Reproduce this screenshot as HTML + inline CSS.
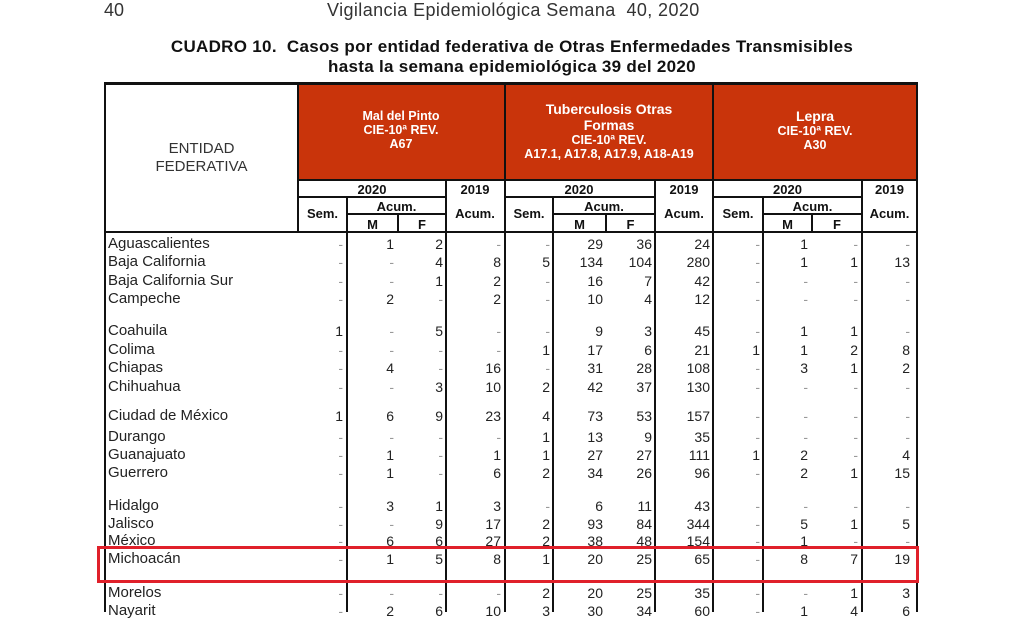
<!DOCTYPE html>
<html><head><meta charset="utf-8"><style>
*{margin:0;padding:0;box-sizing:border-box}
body{width:1024px;height:612px;overflow:hidden;background:#fff;font-family:"Liberation Sans",sans-serif;color:#222;position:relative}
.a{position:absolute}
.hl{position:absolute;background:#111}
.red{position:absolute;background:#c9340b;color:#fff;font-weight:bold;text-align:center;font-size:12.5px;line-height:14px}
.r{position:absolute;left:0;width:1024px;height:18px;font-size:14px;line-height:18px}
.r span{position:absolute;top:0}
.n{position:absolute;left:108px;font-size:15px;color:#222}
.c1{right:681px}.c2{right:630px}.c3{right:581px}.c4{right:523px}.c5{right:474px}.c6{right:421px}.c7{right:372px}.c8{right:314px}.c9{right:264px}.c10{right:216px}.c11{right:166px}.c12{right:114px}
.g{color:#999}
.hd{position:absolute;font-weight:bold;font-size:13px;text-align:center;color:#111}
</style></head><body>
<div class="a" style="left:104px;top:0;font-size:18px;color:#333">40</div>
<div class="a" style="left:327px;top:0;font-size:18px;color:#333;letter-spacing:0.4px">Vigilancia Epidemiológica Semana&nbsp; 40, 2020</div>
<div class="a" style="left:0;width:1024px;top:37px;text-align:center;font-weight:bold;font-size:17px;line-height:20px;color:#111;letter-spacing:0.3px">CUADRO 10.&nbsp; Casos por entidad federativa de Otras Enfermedades Transmisibles<br>hasta la semana epidemiológica 39 del 2020</div>

<!-- red headers -->
<div class="red" style="left:298px;top:84px;width:206px;height:96px;padding-top:25px">Mal del Pinto<br>CIE-10ª REV.<br>A67</div>
<div class="red" style="left:505px;top:84px;width:208px;height:96px;padding-top:17px"><span style="font-size:14px;line-height:16px">Tuberculosis Otras<br>Formas</span><br>CIE-10ª REV.<br>A17.1, A17.8, A17.9, A18-A19</div>
<div class="red" style="left:713px;top:84px;width:204px;height:96px;padding-top:25px"><span style="font-size:14px">Lepra</span><br>CIE-10ª REV.<br>A30</div>
<div class="a" style="left:105px;top:140px;width:193px;text-align:center;font-size:15px;line-height:18px;color:#333">ENTIDAD<br>FEDERATIVA</div>

<!-- table lines -->
<div class="hl" style="left:104px;top:82px;width:814px;height:3px"></div>
<div class="hl" style="left:298px;top:179px;width:620px;height:2px"></div>
<div class="hl" style="left:298px;top:196px;width:148px;height:2px"></div>
<div class="hl" style="left:505px;top:196px;width:150px;height:2px"></div>
<div class="hl" style="left:713px;top:196px;width:149px;height:2px"></div>
<div class="hl" style="left:347px;top:213px;width:99px;height:2px"></div>
<div class="hl" style="left:553px;top:213px;width:102px;height:2px"></div>
<div class="hl" style="left:763px;top:213px;width:99px;height:2px"></div>
<div class="hl" style="left:104px;top:231px;width:814px;height:2px"></div>
<div class="hl" style="left:104px;top:82px;width:2px;height:530px"></div>
<div class="hl" style="left:297px;top:82px;width:2px;height:150px"></div>
<div class="hl" style="left:346px;top:197px;width:2px;height:415px"></div>
<div class="hl" style="left:397px;top:214px;width:2px;height:18px"></div>
<div class="hl" style="left:445px;top:180px;width:2px;height:432px"></div>
<div class="hl" style="left:504px;top:82px;width:2px;height:530px"></div>
<div class="hl" style="left:552px;top:197px;width:2px;height:415px"></div>
<div class="hl" style="left:605px;top:214px;width:2px;height:18px"></div>
<div class="hl" style="left:654px;top:180px;width:2px;height:432px"></div>
<div class="hl" style="left:712px;top:82px;width:2px;height:530px"></div>
<div class="hl" style="left:762px;top:197px;width:2px;height:415px"></div>
<div class="hl" style="left:811px;top:214px;width:2px;height:18px"></div>
<div class="hl" style="left:861px;top:180px;width:2px;height:432px"></div>
<div class="hl" style="left:916px;top:82px;width:2px;height:530px"></div>

<!-- sub headers -->
<div class="hd" style="left:298px;top:182px;width:148px">2020</div>
<div class="hd" style="left:446px;top:182px;width:58px">2019</div>
<div class="hd" style="left:505px;top:182px;width:148px">2020</div>
<div class="hd" style="left:655px;top:182px;width:58px">2019</div>
<div class="hd" style="left:713px;top:182px;width:149px">2020</div>
<div class="hd" style="left:862px;top:182px;width:55px">2019</div>
<div class="hd" style="left:298px;top:206px;width:49px">Sem.</div>
<div class="hd" style="left:347px;top:199px;width:99px">Acum.</div>
<div class="hd" style="left:446px;top:206px;width:58px">Acum.</div>
<div class="hd" style="left:505px;top:206px;width:48px">Sem.</div>
<div class="hd" style="left:553px;top:199px;width:102px">Acum.</div>
<div class="hd" style="left:655px;top:206px;width:58px">Acum.</div>
<div class="hd" style="left:713px;top:206px;width:50px">Sem.</div>
<div class="hd" style="left:763px;top:199px;width:99px">Acum.</div>
<div class="hd" style="left:862px;top:206px;width:55px">Acum.</div>
<div class="hd" style="left:347px;top:217px;width:51px;height:14px;overflow:hidden">M</div>
<div class="hd" style="left:398px;top:217px;width:48px;height:14px;overflow:hidden">F</div>
<div class="hd" style="left:553px;top:217px;width:53px;height:14px;overflow:hidden">M</div>
<div class="hd" style="left:606px;top:217px;width:49px;height:14px;overflow:hidden">F</div>
<div class="hd" style="left:763px;top:217px;width:49px;height:14px;overflow:hidden">M</div>
<div class="hd" style="left:812px;top:217px;width:50px;height:14px;overflow:hidden">F</div>

<!-- rows -->
<div class="r" style="top:235px"><span class="n">Aguascalientes</span><span class="c1 g">-</span><span class="c2">1</span><span class="c3">2</span><span class="c4 g">-</span><span class="c5 g">-</span><span class="c6">29</span><span class="c7">36</span><span class="c8">24</span><span class="c9 g">-</span><span class="c10">1</span><span class="c11 g">-</span><span class="c12 g">-</span></div>
<div class="r" style="top:253px"><span class="n">Baja California</span><span class="c1 g">-</span><span class="c2 g">-</span><span class="c3">4</span><span class="c4">8</span><span class="c5">5</span><span class="c6">134</span><span class="c7">104</span><span class="c8">280</span><span class="c9 g">-</span><span class="c10">1</span><span class="c11">1</span><span class="c12">13</span></div>
<div class="r" style="top:272px"><span class="n">Baja California Sur</span><span class="c1 g">-</span><span class="c2 g">-</span><span class="c3">1</span><span class="c4">2</span><span class="c5 g">-</span><span class="c6">16</span><span class="c7">7</span><span class="c8">42</span><span class="c9 g">-</span><span class="c10 g">-</span><span class="c11 g">-</span><span class="c12 g">-</span></div>
<div class="r" style="top:290px"><span class="n">Campeche</span><span class="c1 g">-</span><span class="c2">2</span><span class="c3 g">-</span><span class="c4">2</span><span class="c5 g">-</span><span class="c6">10</span><span class="c7">4</span><span class="c8">12</span><span class="c9 g">-</span><span class="c10 g">-</span><span class="c11 g">-</span><span class="c12 g">-</span></div>

<div class="r" style="top:322px"><span class="n">Coahuila</span><span class="c1">1</span><span class="c2 g">-</span><span class="c3">5</span><span class="c4 g">-</span><span class="c5 g">-</span><span class="c6">9</span><span class="c7">3</span><span class="c8">45</span><span class="c9 g">-</span><span class="c10">1</span><span class="c11">1</span><span class="c12 g">-</span></div>
<div class="r" style="top:341px"><span class="n">Colima</span><span class="c1 g">-</span><span class="c2 g">-</span><span class="c3 g">-</span><span class="c4 g">-</span><span class="c5">1</span><span class="c6">17</span><span class="c7">6</span><span class="c8">21</span><span class="c9">1</span><span class="c10">1</span><span class="c11">2</span><span class="c12">8</span></div>
<div class="r" style="top:359px"><span class="n">Chiapas</span><span class="c1 g">-</span><span class="c2">4</span><span class="c3 g">-</span><span class="c4">16</span><span class="c5 g">-</span><span class="c6">31</span><span class="c7">28</span><span class="c8">108</span><span class="c9 g">-</span><span class="c10">3</span><span class="c11">1</span><span class="c12">2</span></div>
<div class="r" style="top:378px"><span class="n">Chihuahua</span><span class="c1 g">-</span><span class="c2 g">-</span><span class="c3">3</span><span class="c4">10</span><span class="c5">2</span><span class="c6">42</span><span class="c7">37</span><span class="c8">130</span><span class="c9 g">-</span><span class="c10 g">-</span><span class="c11 g">-</span><span class="c12 g">-</span></div>

<div class="r" style="top:407px"><span class="n">Ciudad de México</span><span class="c1">1</span><span class="c2">6</span><span class="c3">9</span><span class="c4">23</span><span class="c5">4</span><span class="c6">73</span><span class="c7">53</span><span class="c8">157</span><span class="c9 g">-</span><span class="c10 g">-</span><span class="c11 g">-</span><span class="c12 g">-</span></div>
<div class="r" style="top:428px"><span class="n">Durango</span><span class="c1 g">-</span><span class="c2 g">-</span><span class="c3 g">-</span><span class="c4 g">-</span><span class="c5">1</span><span class="c6">13</span><span class="c7">9</span><span class="c8">35</span><span class="c9 g">-</span><span class="c10 g">-</span><span class="c11 g">-</span><span class="c12 g">-</span></div>
<div class="r" style="top:446px"><span class="n">Guanajuato</span><span class="c1 g">-</span><span class="c2">1</span><span class="c3 g">-</span><span class="c4">1</span><span class="c5">1</span><span class="c6">27</span><span class="c7">27</span><span class="c8">111</span><span class="c9">1</span><span class="c10">2</span><span class="c11 g">-</span><span class="c12">4</span></div>
<div class="r" style="top:464px"><span class="n">Guerrero</span><span class="c1 g">-</span><span class="c2">1</span><span class="c3 g">-</span><span class="c4">6</span><span class="c5">2</span><span class="c6">34</span><span class="c7">26</span><span class="c8">96</span><span class="c9 g">-</span><span class="c10">2</span><span class="c11">1</span><span class="c12">15</span></div>

<div class="r" style="top:497px"><span class="n">Hidalgo</span><span class="c1 g">-</span><span class="c2">3</span><span class="c3">1</span><span class="c4">3</span><span class="c5 g">-</span><span class="c6">6</span><span class="c7">11</span><span class="c8">43</span><span class="c9 g">-</span><span class="c10 g">-</span><span class="c11 g">-</span><span class="c12 g">-</span></div>
<div class="r" style="top:515px"><span class="n">Jalisco</span><span class="c1 g">-</span><span class="c2 g">-</span><span class="c3">9</span><span class="c4">17</span><span class="c5">2</span><span class="c6">93</span><span class="c7">84</span><span class="c8">344</span><span class="c9 g">-</span><span class="c10">5</span><span class="c11">1</span><span class="c12">5</span></div>
<div class="r" style="top:532px;height:14px;overflow:hidden"><span class="n">México</span><span class="c1 g">-</span><span class="c2">6</span><span class="c3">6</span><span class="c4">27</span><span class="c5">2</span><span class="c6">38</span><span class="c7">48</span><span class="c8">154</span><span class="c9 g">-</span><span class="c10">1</span><span class="c11 g">-</span><span class="c12 g">-</span></div>
<div class="r" style="top:550px"><span class="n">Michoacán</span><span class="c1 g">-</span><span class="c2">1</span><span class="c3">5</span><span class="c4">8</span><span class="c5">1</span><span class="c6">20</span><span class="c7">25</span><span class="c8">65</span><span class="c9 g">-</span><span class="c10">8</span><span class="c11">7</span><span class="c12">19</span></div>

<div class="r" style="top:584px"><span class="n">Morelos</span><span class="c1 g">-</span><span class="c2 g">-</span><span class="c3 g">-</span><span class="c4 g">-</span><span class="c5">2</span><span class="c6">20</span><span class="c7">25</span><span class="c8">35</span><span class="c9 g">-</span><span class="c10 g">-</span><span class="c11">1</span><span class="c12">3</span></div>
<div class="r" style="top:602px"><span class="n">Nayarit</span><span class="c1 g">-</span><span class="c2">2</span><span class="c3">6</span><span class="c4">10</span><span class="c5">3</span><span class="c6">30</span><span class="c7">34</span><span class="c8">60</span><span class="c9 g">-</span><span class="c10">1</span><span class="c11">4</span><span class="c12">6</span></div>

<div class="a" style="left:97px;top:546px;width:822px;height:37px;border:3px solid #e0202a"></div>
</body></html>
